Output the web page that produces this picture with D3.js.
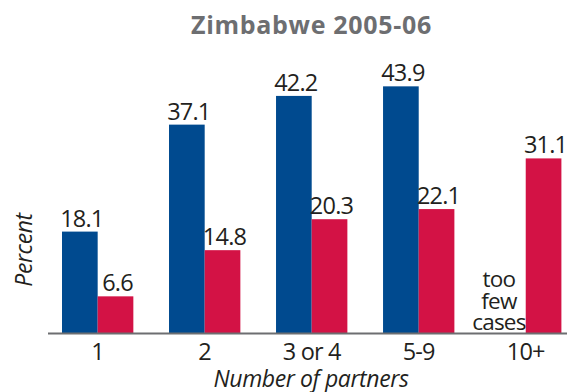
<!DOCTYPE html>
<html>
<head>
<meta charset="utf-8">
<script src="https://cdn.jsdelivr.net/npm/d3@7"></script>
<style>
  html, body { margin: 0; padding: 0; background: #ffffff; }
  svg { display: block; }
  text { font-family: "Open Sans", "Noto Sans", sans-serif; }
</style>
</head>
<body>
<svg id="chart" width="567" height="392"></svg>
<script>
// Prevalence (%) by number of lifetime sexual partners
const categories = ["1", "2", "3 or 4", "5-9", "10+"];
const women = [18.1, 37.1, 42.2, 43.9, null];   // null: too few cases
const men = [6.6, 14.8, 20.3, 22.1, 31.1];
const seriesNames = ["Women", "Men"];
const seriesColors = ["#004a8f", "#d31245"];
const titleText = "Zimbabwe 2005-06";
const yTitle = "Percent";
const xTitle = "Number of partners";
const missingNote = ["too", "few", "cases"];

const rows = categories.map((c, i) => ({ cat: c, values: [women[i], men[i]] }));

const svg = d3.select("#chart");
const baseline = 333.5;
const labelSize = 23.5;
const labelSpacing = -0.8;

const x0 = d3.scaleBand()
  .domain(categories)
  .range([62, 561.4])
  .paddingInner(1 / 3)
  .paddingOuter(0);

const x1 = d3.scaleBand()
  .domain(seriesNames)
  .range([0, x0.bandwidth()])
  .padding(0);

const y = d3.scaleLinear()
  .domain([0, 44])
  .range([baseline, baseline - 44 * 5.63]);

// Title
svg.append("text")
  .attr("x", 311.5)
  .attr("y", 34)
  .attr("text-anchor", "middle")
  .attr("font-size", 25)
  .attr("font-weight", 700)
  .attr("letter-spacing", 0.7)
  .attr("fill", "#6d6e71")
  .text(titleText);

// Bars
const groups = svg.append("g")
  .selectAll("g")
  .data(rows)
  .join("g")
  .attr("transform", d => `translate(${x0(d.cat)},0)`);

const cells = groups.selectAll("g.cell")
  .data(d => d.values.map((v, k) => ({ name: seriesNames[k], color: seriesColors[k], value: v })))
  .join("g")
  .attr("class", "cell");

cells.filter(d => d.value != null)
  .append("rect")
  .attr("x", d => x1(d.name))
  .attr("width", x1.bandwidth())
  .attr("y", d => y(d.value))
  .attr("height", d => y(0) - y(d.value))
  .attr("fill", d => d.color);

cells.filter(d => d.value != null)
  .append("text")
  .attr("x", d => x1(d.name) + x1.bandwidth() / 2 + 2)
  .attr("y", d => y(d.value) - 5)
  .attr("text-anchor", "middle")
  .attr("font-size", labelSize)
  .attr("letter-spacing", labelSpacing)
  .attr("fill", "#231f20")
  .text(d => d.value.toFixed(1));

// Note for the missing value
cells.filter(d => d.value == null)
  .each(function (d) {
    const t = d3.select(this).append("text")
      .attr("text-anchor", "middle")
      .attr("font-size", 22.5)
      .attr("letter-spacing", labelSpacing)
      .attr("fill", "#231f20");
    missingNote.forEach((line, j) => {
      t.append("tspan")
        .attr("x", x1(d.name) + x1.bandwidth() / 2 - 9)
        .attr("y", 287 + j * 21.5)
        .text(line);
    });
  });

// Baseline
svg.append("line")
  .attr("x1", 48)
  .attr("x2", 567)
  .attr("y1", baseline)
  .attr("y2", baseline)
  .attr("stroke", "#6d6e71")
  .attr("stroke-width", 2);

// Category axis
const xAxis = svg.append("g")
  .attr("transform", `translate(0,${baseline})`)
  .call(d3.axisBottom(x0).tickSize(0).tickPadding(0));
xAxis.select(".domain").remove();
xAxis.selectAll("text")
  .attr("x", 0)
  .attr("y", 26.5)
  .attr("dy", null)
  .attr("font-size", labelSize)
  .attr("letter-spacing", labelSpacing)
  .attr("font-family", "\"Open Sans\", \"Noto Sans\", sans-serif")
  .attr("fill", "#231f20");

// Axis titles
svg.append("text")
  .attr("transform", "translate(32,250) rotate(-90)")
  .attr("text-anchor", "middle")
  .attr("font-size", 23)
  .attr("font-style", "italic")
  .attr("letter-spacing", -0.4)
  .attr("fill", "#231f20")
  .text(yTitle);

svg.append("text")
  .attr("x", 311)
  .attr("y", 386.5)
  .attr("text-anchor", "middle")
  .attr("font-size", 23)
  .attr("font-style", "italic")
  .attr("letter-spacing", -0.4)
  .attr("fill", "#231f20")
  .text(xTitle);
</script>
</body>
</html>
